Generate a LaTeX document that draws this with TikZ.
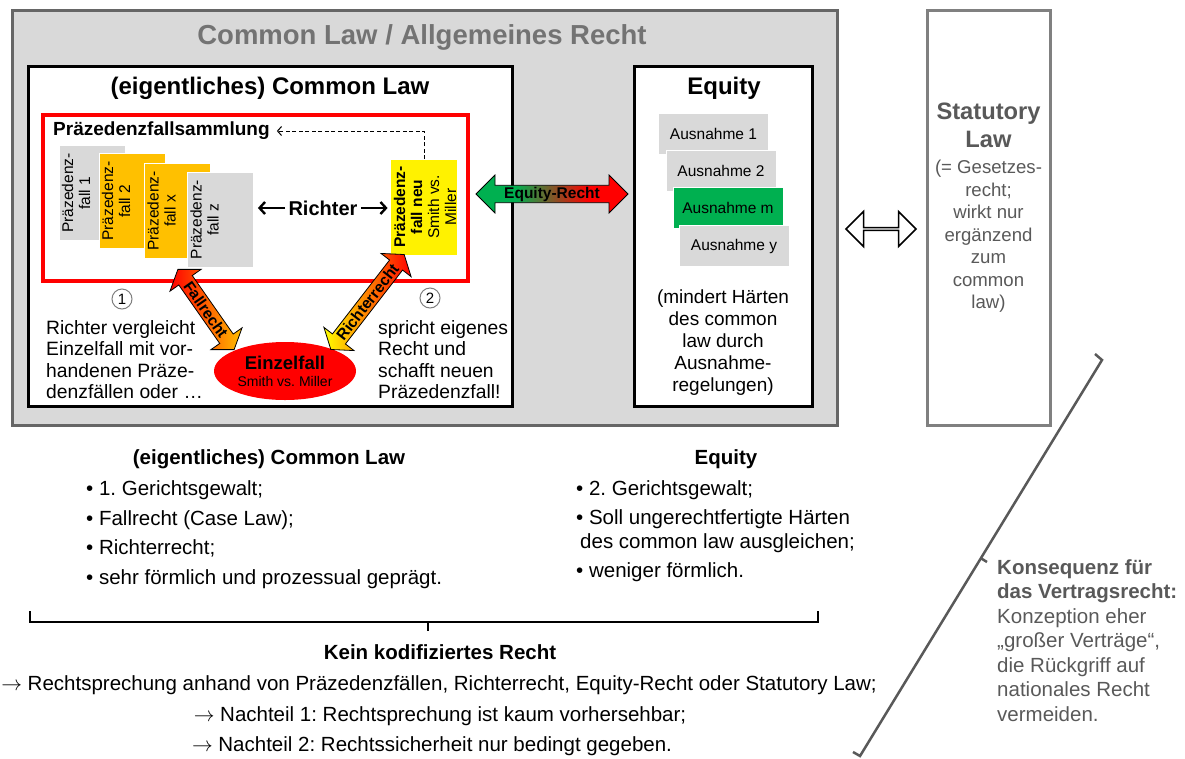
\documentclass[tikz,border=0pt]{standalone}
\usepackage{fontspec}
\setmainfont{Liberation Sans}
\usetikzlibrary{arrows.meta, shapes.arrows, shapes.geometric, positioning}

\definecolor{flaeche}{HTML}{D9D9D9}
\definecolor{rahmengrau}{HTML}{666666}
\definecolor{statgrau}{HTML}{808080}
\definecolor{schrift}{HTML}{595959}
\definecolor{titelgrau}{HTML}{737373}
\definecolor{orangekarte}{HTML}{FFC000}
\definecolor{gruen}{HTML}{00B050}
\pgfdeclarehorizontalshading{gruenrot}{100bp}{color(0bp)=(gruen); color(38bp)=(gruen); color(62bp)=(red); color(100bp)=(red)}

\tikzset{
    kasten/.style={draw, line width=3pt, fill=white, inner sep=0pt},
    karte/.style={draw=white, line width=0.8pt, inner sep=0pt, minimum width=95, minimum height=66, rotate=90},
    kartentext/.style={rotate=90, anchor=north, align=center, inner sep=3pt, font=\fontsize{15.5}{17}\selectfont},
    ausnahme/.style={draw=white, line width=0.8pt, inner sep=0pt, minimum width=110, minimum height=41, font=\fontsize{15.5}{17}\selectfont},
    titel/.style={font=\bfseries\fontsize{24}{28}\selectfont, anchor=base},
    fliess/.style={font=\fontsize{19.3}{21.5}\selectfont, inner sep=0pt},
    dickpfeil/.style={double arrow, draw, line width=0.8pt, inner sep=0pt, font=\bfseries\fontsize{15.5}{16}\selectfont},
    richterpfeil/.style={-{Straight Barb[length=5.5pt, width=12pt]}, line width=2.4pt},
    nummer/.style={circle, draw=statgrau, line width=1pt, inner sep=0pt, minimum size=20, font=\fontsize{15}{15}\selectfont},
    unten/.style={font=\fontsize{20.5}{24}\selectfont, anchor=base},
}

\begin{document}
\frenchspacing
\begin{tikzpicture}[x=1pt, y=-1pt]
\useasboundingbox (0,0) rectangle (1185,758);

% grauer Rahmen: Common Law / Allgemeines Recht
\node[draw=rahmengrau, fill=flaeche, line width=3pt, minimum width=825, minimum height=415] (gesamt) at (424.5,217.5) {};
\node[font=\bfseries\fontsize{27.5}{30}\selectfont, text=titelgrau, anchor=base] (gesamttitel) at (422,44) {Common Law / Allgemeines Recht};

% (eigentliches) Common Law
\node[kasten, minimum width=484, minimum height=340] (cl) at (270,236) {};
\node[titel] (cltitel) at (270,94.5) {(eigentliches) Common Law};
\node[draw=red, line width=4pt, minimum width=425, minimum height=166] (sammelbox) at (255.5,198) {};
\node[anchor=west, inner sep=3pt, font=\bfseries\fontsize{19}{21}\selectfont] (sammlung) at (50,131) {Präzedenzfallsammlung};

% Präzedenzfälle
\foreach \name/\x/\y/\farbe/\nr in {f1/92/193/flaeche/1, f2/132/201/orangekarte/2, fx/177.5/211/orangekarte/x, fz/220.5/219.5/flaeche/z} {
    \node[karte, fill=\farbe] (\name) at (\x,\y) {};
    \node[kartentext] at (\name.north) {Präzedenz-\\fall \nr};
}
\node[karte, fill=yellow, draw=none] (neu) at (424,207) {};
\node[kartentext] at (neu.north) {\bfseries Präzedenz-\\\bfseries fall neu\\Smith vs.\\Miller};

\node[font=\bfseries\fontsize{20}{20}\selectfont] (richter) at (323,208) {Richter};
\draw[richterpfeil, shorten >=4pt] (richter.west) -- (richter.west -| fz.south);
\draw[richterpfeil, shorten >=3pt] (richter.east) -- (richter.east -| neu.north);
\draw[dashed, dash pattern=on 4pt off 2.5pt, line width=1pt, -{Straight Barb[length=4pt, width=9pt]}, shorten >=4pt] (neu.east) |- (sammlung.east);

% Einzelfall
\node[ellipse, fill=red, minimum width=142, minimum height=58, inner sep=0pt, align=center] (einzel) at (285,371)
    {{\bfseries\fontsize{18.5}{20}\selectfont Einzelfall}\\[5pt]{\fontsize{14}{16}\selectfont Smith vs. Miller}};
\node[dickpfeil, rotate=-55, minimum height=98, minimum width=38, double arrow head extend=8, double arrow tip angle=110, left color=red, right color=orangekarte] (fallrecht) at (206,309.5) {Fallrecht};
\node[dickpfeil, rotate=52.3, minimum height=120, minimum width=38, double arrow head extend=8, double arrow tip angle=110, left color=yellow, right color=red] (richterrecht) at (367.5,302) {Richterrecht};

\node[nummer] (n1) at (122,299) {1};
\node[nummer] (n2) at (430,298) {2};
\node[fliess, anchor=north west, align=left] (vergleich) at (46,320)
    {Richter vergleicht\\Einzelfall mit vor-\\handenen Präze-\\denzfällen oder …};
\node[fliess, anchor=north west, align=left] (spricht) at (378,320)
    {spricht eigenes\\Recht und\\schafft neuen\\Präzedenzfall!};

% Equity
\node[kasten, minimum width=178, minimum height=340] (eq) at (723,236) {};
\node[titel] (eqtitel) at (724,94.5) {Equity};
\foreach \name/\x/\y/\farbe/\nr in {a1/713.5/133.5/flaeche/1, a2/721/170.5/flaeche/2, am/728/207.5/gruen/m, ay/734/246/flaeche/y}
    \node[ausnahme, fill=\farbe] (\name) at (\x,\y) {Ausnahme \nr};
\node[fliess, anchor=north, align=center, font=\fontsize{19}{22}\selectfont] (mindert) at (723,290)
    {(mindert Härten\\des common\\law durch\\Ausnahme-\\regelungen)};

\node[dickpfeil, minimum height=152, minimum width=38, double arrow head extend=9, shading=gruenrot] (eqrecht) at (552,194) {Equity-Recht};

% Statutory Law
\node[draw=statgrau, line width=3pt, fill=white, minimum width=123, minimum height=415] (stat) at (988.5,217.5) {};
\node[anchor=north, align=center, inner sep=0pt, text=schrift, font=\bfseries\fontsize{23.7}{28}\selectfont] (stattitel) at (988.5,103) {Statutory\\Law};
\node[anchor=north, align=center, inner sep=0pt, text=schrift, font=\fontsize{18.6}{22.5}\selectfont] (stattext) at (988.5,160)
    {(= Gesetzes-\\recht;\\wirkt nur\\ergänzend\\zum\\common\\law)};
\node[double arrow, draw, line width=1.5pt, fill=white, inner sep=0pt, minimum height=70, minimum width=35, double arrow head extend=9] (doppel) at (881,229) {};

% Merkmale unten
\node[titel, font=\bfseries\fontsize{20.5}{22}\selectfont] (cl2) at (269,464.5) {(eigentliches) Common Law};
\node[fliess, anchor=north west, align=left, font=\fontsize{20.5}{24}\selectfont] (clliste) at (86,480.5)
    {• 1. Gerichtsgewalt;\\[5.5pt]• Fallrecht (Case Law);\\[5.5pt]• Richterrecht;\\[5.5pt]• sehr förmlich und prozessual geprägt.};
\node[titel, font=\bfseries\fontsize{20.5}{22}\selectfont] (eq2) at (726,464.5) {Equity};
\node[fliess, anchor=north west, align=left, font=\fontsize{20.5}{24}\selectfont] (eqliste) at (576,480.5)
    {• 2. Gerichtsgewalt;\\[4.5pt]• Soll ungerechtfertigte Härten\\\hspace*{4pt}des common law ausgleichen;\\[5.5pt]• weniger förmlich.};

% Klammer und Fazit
\draw[line width=2.5pt] (30,611) -- (30,622) -- (818,622) -- (818,611);
\draw[line width=2.5pt] (428,622) -- (428,631);
\node[unten, font=\bfseries\fontsize{20.5}{24}\selectfont] (kein) at (440,659) {Kein kodifiziertes Recht};
\node[unten] (zeile1) at (439,690) {$\rightarrow$ Rechtsprechung anhand von Präzedenzfällen, Richterrecht, Equity-Recht oder Statutory Law;};
\node[unten] (zeile2) at (440,721) {$\rightarrow$ Nachteil 1: Rechtsprechung ist kaum vorhersehbar;};
\node[unten] (zeile3) at (432,751) {$\rightarrow$ Nachteil 2: Rechtssicherheit nur bedingt gegeben.};

% schraege Klammer rechts
\draw[schrift, line width=2.5pt] (853,752) -- (860,756) -- (1102,360) -- (1095,354);
\draw[schrift, line width=2.5pt] (980.5,558) -- (987,562);
\node[anchor=north west, align=left, inner sep=0pt, text=schrift, font=\fontsize{20.5}{24.5}\selectfont] (konsequenz) at (997,559)
    {\textbf{Konsequenz für}\\\textbf{das Vertragsrecht:}\\Konzeption eher\\„großer Verträge“,\\die Rückgriff auf\\nationales Recht\\vermeiden.};
\end{tikzpicture}
\end{document}
